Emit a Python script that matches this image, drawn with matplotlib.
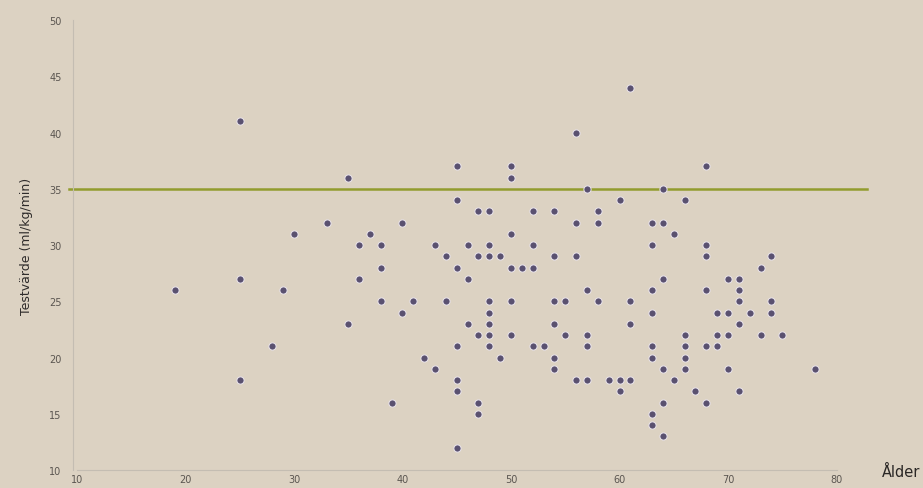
import matplotlib
matplotlib.use("Agg")
import matplotlib.pyplot as plt

# Age (x) and test value (y)
ages = [
    25, 30, 25, 19, 29, 28, 25,
    45, 50, 50, 35, 45, 47, 48, 52, 33, 40, 37, 50,
    36, 38, 43, 46, 48, 52,
    44, 47, 48, 49,
    38, 45, 50, 51, 52,
    36, 46,
    38, 41, 44, 48, 50,
    40, 48,
    35, 46, 48,
    47, 48, 50,
    45, 48, 52, 53,
    42, 49,
    43,
    45, 45,
    39, 47, 47,
    45,
    61, 56, 68, 57, 64, 60, 66,
    54, 58,
    56, 58, 63, 64,
    65,
    63, 68, 68,
    54, 56,
    64, 70, 71,
    57, 63, 68, 71,
    54, 55, 58, 61, 71,
    63, 69, 70,
    54, 61, 71,
    55, 57, 66, 69, 70,
    57, 63, 66, 68, 69,
    54, 63, 66,
    54, 64, 66, 70,
    56, 57, 59, 60, 61, 65,
    60, 67, 71,
    64, 68,
    63, 63, 64,
    74, 73, 74, 72, 74, 73, 75, 78,
]
values = [
    41, 31, 27, 26, 26, 21, 18,
    37, 37, 36, 36, 34, 33, 33, 33, 32, 32, 31, 31,
    30, 30, 30, 30, 30, 30,
    29, 29, 29, 29,
    28, 28, 28, 28, 28,
    27, 27,
    25, 25, 25, 25, 25,
    24, 24,
    23, 23, 23,
    22, 22, 22,
    21, 21, 21, 21,
    20, 20,
    19,
    18, 17,
    16, 16, 15,
    12,
    44, 40, 37, 35, 35, 34, 34,
    33, 33,
    32, 32, 32, 32,
    31,
    30, 30, 29,
    29, 29,
    27, 27, 27,
    26, 26, 26, 26,
    25, 25, 25, 25, 25,
    24, 24, 24,
    23, 23, 23,
    22, 22, 22, 22, 22,
    21, 21, 21, 21, 21,
    20, 20, 20,
    19, 19, 19, 19,
    18, 18, 18, 18, 18, 18,
    17, 17, 17,
    16, 16,
    15, 14, 13,
    29, 28, 25, 24, 24, 22, 22, 19,
]
reference_value = 35

x_ticks = [10, 20, 30, 40, 50, 60, 70, 80]
y_ticks = [10, 15, 20, 25, 30, 35, 40, 45, 50]

bg = "#dcd2c2"
fig = plt.figure(figsize=(9.23, 4.89), dpi=100, facecolor=bg)
ax = fig.add_axes([0.0834, 0.0368, 0.8229, 0.920])
ax.set_facecolor(bg)

ax.scatter(ages, values, s=27, color="#5a5170", edgecolors="#ebe6ee",
           linewidths=0.7, zorder=3, clip_on=False)
ax.axhline(reference_value, xmin=-0.01, xmax=1.04, color="#929c2e",
           linewidth=1.8, zorder=2, clip_on=False)

ax.set_xlim(10, 80)
ax.set_ylim(10, 50)
ax.set_xticks(x_ticks)
ax.set_yticks(y_ticks)
ax.tick_params(length=0, labelsize=7, colors="#5a5550")
ax.tick_params(axis="x", pad=3)
ax.tick_params(axis="y", pad=8)

for side in ["top", "right"]:
    ax.spines[side].set_visible(False)
for side in ["left", "bottom"]:
    ax.spines[side].set_color("#c4bdb2")
    ax.spines[side].set_linewidth(0.8)
ax.spines["left"].set_position(("outward", 3))

ax.set_ylabel("Testvärde (ml/kg/min)", fontsize=9, color="#2e2b2a", labelpad=12)
fig.text(0.997, 0.018, "Ålder", fontsize=10.5, color="#2a2725", ha="right", va="bottom")

fig.savefig("out.png", dpi=100, facecolor=bg)
